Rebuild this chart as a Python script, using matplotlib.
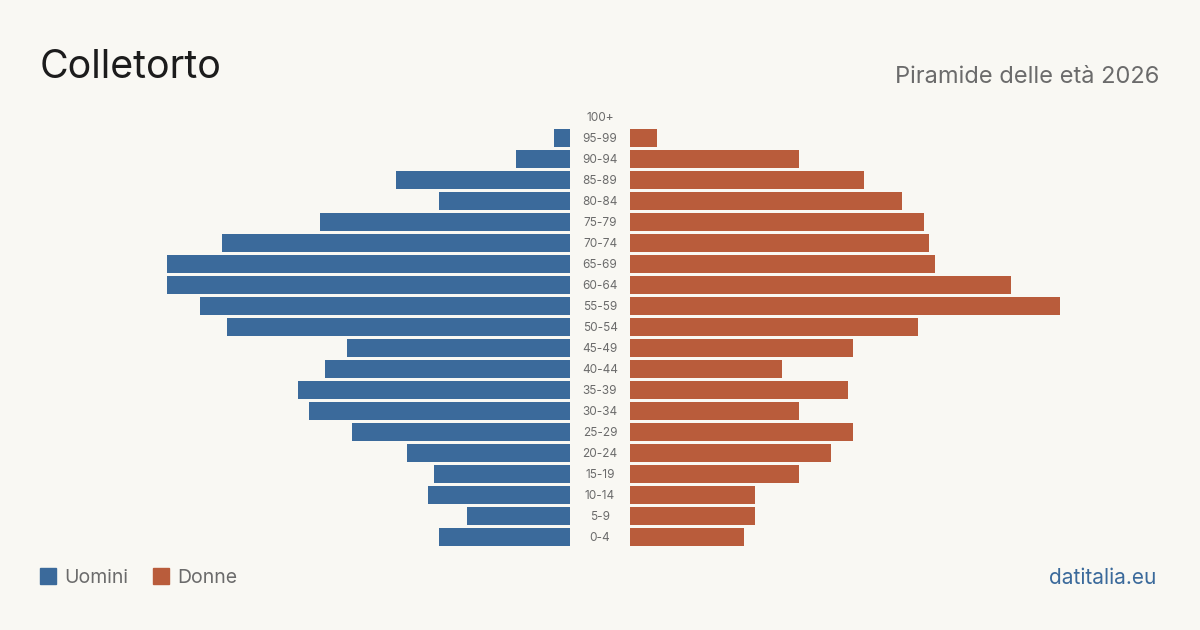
import matplotlib
matplotlib.use("Agg")
import matplotlib.pyplot as plt
from matplotlib.patches import Rectangle

plt.rcParams['font.family'] = ['Inter', 'DejaVu Sans']

age_groups = ["0-4", "5-9", "10-14", "15-19", "20-24", "25-29", "30-34", "35-39",
              "40-44", "45-49", "50-54", "55-59", "60-64", "65-69", "70-74",
              "75-79", "80-84", "85-89", "90-94", "95-99", "100+"]
men = [24, 19, 26, 25, 30, 40, 48, 50, 45, 41, 63, 68, 74, 74, 64, 46, 24, 32, 10, 3, 0]
women = [21, 23, 23, 31, 37, 41, 31, 40, 28, 41, 53, 79, 70, 56, 55, 54, 50, 43, 31, 5, 0]

title = "Colletorto"
subtitle = "Piramide delle età 2026"
legend_labels = ["Uomini", "Donne"]
source = "datitalia.eu"

BG = "#f9f8f3"
BLUE = "#3b6a9b"
ORANGE = "#b95c3b"

W, H = 1200, 630
fig = plt.figure(figsize=(W / 100, H / 100), dpi=100, facecolor=BG)

xmax = max(max(men), max(women))
scale_px = 430  # pixels for the max value
top_px, bot_px = 106.5, 547.5

def ax_rect(x0, x1):
    return [x0 / W, 1 - bot_px / H, (x1 - x0) / W, (bot_px - top_px) / H]

axL = fig.add_axes(ax_rect(570 - scale_px, 570))
axR = fig.add_axes(ax_rect(630, 630 + scale_px))
ypos = list(range(len(age_groups)))
axL.barh(ypos, men, height=0.81, color=BLUE)
axR.barh(ypos, women, height=0.81, color=ORANGE)
for ax in (axL, axR):
    ax.set_ylim(-0.5, len(age_groups) - 0.5)
    ax.axis("off")
    ax.set_facecolor("none")
axL.set_xlim(xmax, 0)
axR.set_xlim(0, xmax)

# center labels
for i, lab in enumerate(age_groups):
    y_px = 538 - i * 21
    fig.text(600 / W, 1 - y_px / H, lab, ha="center", va="center",
             fontsize=8.5, color="#6b6b6b")

fig.text(40 / W, 1 - 67 / H, title, ha="left", va="center", fontsize=28.3, color="#1c1c1c")
fig.text(1159 / W, 1 - 77 / H, subtitle, ha="right", va="center", fontsize=17, color="#6b6b6b")

# legend
for (x0, col, lab, tx) in [(40, BLUE, legend_labels[0], 64), (153, ORANGE, legend_labels[1], 177)]:
    fig.patches.append(Rectangle((x0 / W, 1 - 584 / H), 16 / W, 16 / H,
                                 transform=fig.transFigure, color=col))
    fig.text(tx / W, 1 - 578 / H, lab, ha="left", va="center", fontsize=14, color="#6b6b6b")

fig.text(1156 / W, 1 - 578 / H, source, ha="right", va="center", fontsize=15, color=BLUE)

fig.savefig("out.png", dpi=100, facecolor=BG)
